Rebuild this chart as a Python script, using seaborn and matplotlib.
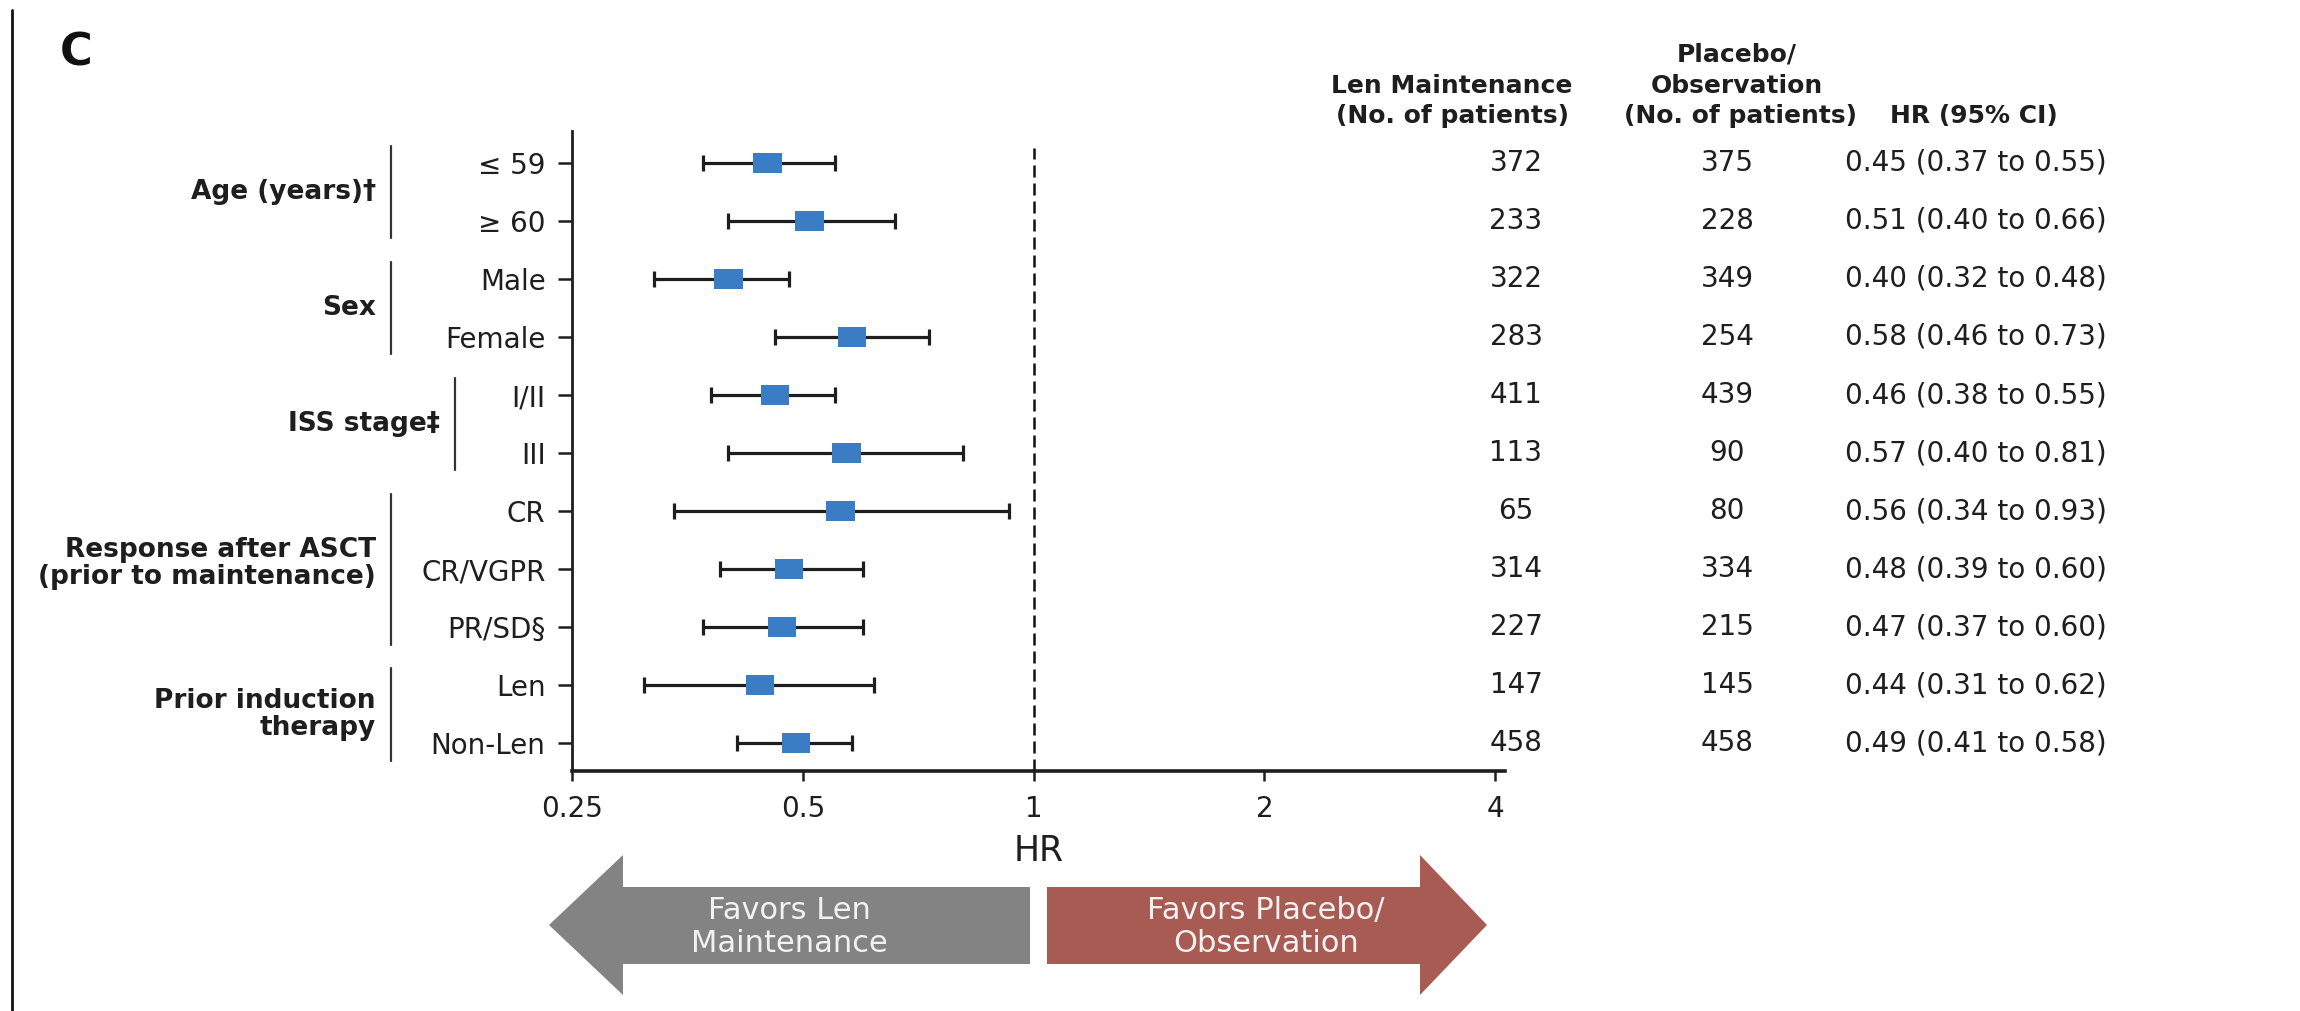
import numpy as np
import pandas as pd
import matplotlib
matplotlib.use("Agg")
import matplotlib.pyplot as plt
import matplotlib.patches as mpatches
from matplotlib import transforms
from matplotlib.path import Path
from matplotlib.ticker import NullLocator
import seaborn as sns

# --- datos del forest plot ---
subgroups = ["≤ 59", "≥ 60", "Male", "Female", "I/II", "III",
             "CR", "CR/VGPR", "PR/SD§", "Len", "Non-Len"]
hr = [0.45, 0.51, 0.40, 0.58, 0.46, 0.57, 0.56, 0.48, 0.47, 0.44, 0.49]
ci_low = [0.37, 0.40, 0.32, 0.46, 0.38, 0.40, 0.34, 0.39, 0.37, 0.31, 0.41]
ci_high = [0.55, 0.66, 0.48, 0.73, 0.55, 0.81, 0.93, 0.60, 0.60, 0.62, 0.58]
n_len = [372, 233, 322, 283, 411, 113, 65, 314, 227, 147, 458]
n_placebo = [375, 228, 349, 254, 439, 90, 80, 334, 215, 145, 458]

groups = ["Age (years)†", "Sex", "ISS stage‡",
          "Response after ASCT\n(prior to maintenance)", "Prior induction\ntherapy"]
group_sizes = [2, 2, 2, 3, 2]
group_line_x = [391, 391, 455, 391, 391]  # px

xticks = [0.25, 0.5, 1, 2, 4]
xtick_labels = ["0.25", "0.5", "1", "2", "4"]

BLUE = "#3b7dc4"
INK = "#1e1e1e"
GRAY_ARROW = "#838383"
RED_ARROW = "#a85b53"

df = pd.DataFrame({"subgroup": subgroups, "hr": hr, "lo": ci_low, "hi": ci_high,
                   "n_len": n_len, "n_pla": n_placebo})
df["pos"] = np.arange(len(df))

sns.set_style("ticks")
plt.rcParams["font.family"] = ["DejaVu Sans"]

W, H = 2300, 1011
fig = plt.figure(figsize=(W / 100, H / 100), dpi=100)
fig.patch.set_facecolor("white")

# overlay en pixeles para textos y flechas
over = fig.add_axes([0, 0, 1, 1], zorder=0)
over.set_xlim(0, W)
over.set_ylim(H, 0)
over.axis("off")
over.patch.set_visible(False)

ax = fig.add_axes([572 / W, 1 - 771 / H, (1505 - 572) / W, (771 - 131) / H], zorder=1)
ax.patch.set_visible(False)

# barras de IC
ax.errorbar(df["hr"], df["pos"], xerr=[df["hr"] - df["lo"], df["hi"] - df["hr"]],
            fmt="none", ecolor=INK, elinewidth=2.3, capsize=6, capthick=2.3, zorder=2)

# marcador rectangular
rect = Path([(-1, -0.7), (1, -0.7), (1, 0.7), (-1, 0.7), (-1, -0.7)],
            [Path.MOVETO, Path.LINETO, Path.LINETO, Path.LINETO, Path.CLOSEPOLY])
sns.scatterplot(data=df, x="hr", y="pos", marker=rect, s=20.5 ** 2, color=BLUE,
                edgecolor="none", linewidth=0, ax=ax, zorder=3, legend=False)

ax.set_xscale("log", base=2)
ax.set_xlim(0.25, 4.12)
ax.set_ylim(10.48, -0.55)
ax.set_xticks(xticks, labels=xtick_labels)
ax.xaxis.set_minor_locator(NullLocator())
ax.set_yticks(df["pos"], labels=df["subgroup"])
ax.set_xlabel("HR", fontsize=25, labelpad=8, color=INK)
ax.set_ylabel("")

ax.axvline(1, ymin=0, ymax=(10.48 + 0.26) / (10.48 + 0.55), color="#111111",
           lw=1.8, ls=(0, (4.8, 2.4)), zorder=1)

for s in ["top", "right"]:
    ax.spines[s].set_visible(False)
ax.spines["left"].set_linewidth(2.0)
ax.spines["bottom"].set_linewidth(2.6)
ax.spines["left"].set_color(INK)
ax.spines["bottom"].set_color(INK)
ax.tick_params(axis="y", length=10, width=1.8, pad=9, labelsize=20, colors=INK)
ax.tick_params(axis="x", length=7, width=1.8, pad=10, labelsize=20, colors=INK)

# columnas de la derecha
row_tr = transforms.blended_transform_factory(over.transData, ax.transData)
for _, r in df.iterrows():
    ax.text(1516, r["pos"], f"{r['n_len']}", transform=row_tr, ha="center", va="center",
            fontsize=20, color=INK)
    ax.text(1727, r["pos"], f"{r['n_pla']}", transform=row_tr, ha="center", va="center",
            fontsize=20, color=INK)
    ax.text(1845, r["pos"], f"{r['hr']:.2f} ({r['lo']:.2f} to {r['hi']:.2f})",
            transform=row_tr, ha="left", va="center", fontsize=20, color=INK)

# encabezados
hdr = dict(ha="center", va="center", fontsize=18, fontweight="bold", color=INK)
over.text(1452, 86, "Len Maintenance", **hdr)
over.text(1452, 116, "(No. of patients)", **hdr)
over.text(1737, 55, "Placebo/", **hdr)
over.text(1737, 86, "Observation", **hdr)
over.text(1740, 116, "(No. of patients)", **hdr)
over.text(1890, 116, "HR (95% CI)", ha="left", va="center", fontsize=18,
          fontweight="bold", color=INK)

# etiquetas de grupo
start = 0
for name, size, lx in zip(groups, group_sizes, group_line_x):
    first, last = start, start + size - 1
    ax.plot([lx, lx], [first - 0.3, last + 0.3], transform=row_tr, color="#333333",
            lw=1.6, clip_on=False)
    ax.text(lx - 15, (first + last) / 2 - (0.1 if size == 3 else 0), name, transform=row_tr,
            ha="right", va="center", multialignment="right", fontsize=19,
            fontweight="bold", color=INK, linespacing=1.05)
    start += size

# letra del panel y borde
over.text(76, 53, "C", ha="center", va="center", fontsize=32, fontweight="bold", color="#111111")
over.plot([12, 12], [10, H], color="#111111", lw=2.0)

# flechas
left_arrow = [(549, 925), (623, 855), (623, 887), (1030, 887), (1030, 964), (623, 964), (623, 995)]
right_arrow = [(1487, 925), (1420, 855), (1420, 887), (1047, 887), (1047, 964), (1420, 964), (1420, 995)]
over.add_patch(mpatches.Polygon(left_arrow, closed=True, facecolor=GRAY_ARROW, edgecolor="none"))
over.add_patch(mpatches.Polygon(right_arrow, closed=True, facecolor=RED_ARROW, edgecolor="none"))
arr_txt = dict(ha="center", va="center", fontsize=22, color="#f2f2f2", linespacing=1.15)
over.text(789, 927, "Favors Len\nMaintenance", **arr_txt)
over.text(1266, 927, "Favors Placebo/\nObservation", **arr_txt)

fig.savefig("out.png", dpi=100, facecolor="white")
